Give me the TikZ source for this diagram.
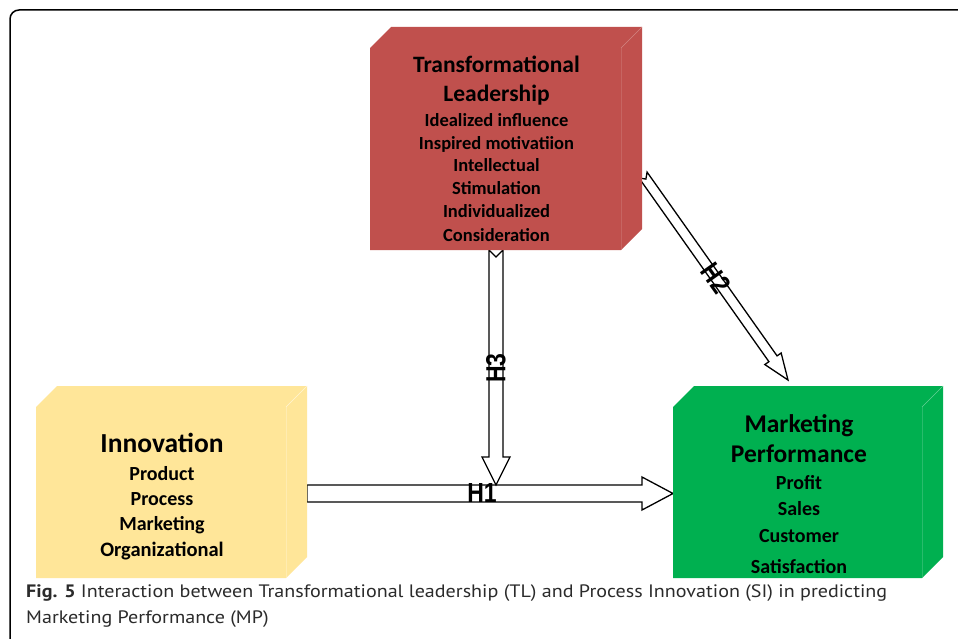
\documentclass[tikz,border=0pt]{standalone}
\usepackage{fontspec}
\setmainfont{Carlito}
\newfontfamily\hfont{Liberation Sans}
\newfontfamily\capfont{PT Sans}
\usetikzlibrary{calc}
\definecolor{tlred}{HTML}{C0504D}
\definecolor{innyel}{HTML}{FFE699}
\definecolor{mpgreen}{HTML}{00B050}
\definecolor{capgray}{HTML}{2B2B2B}
\tikzset{
  cubebox/.style={inner sep=0pt, outer sep=0pt},
  boxtxt/.style={anchor=base, inner sep=0pt, font=\bfseries, text=black},
  blk/.style={draw=black, fill=white, line width=1.3pt, line join=miter},
  hlab/.style={font=\hfont\bfseries\fontsize{23}{23}\selectfont, inner sep=0pt, text=black},
  caption/.style={anchor=base west, inner sep=0pt, text=capgray, font=\capfont\fontsize{18}{26}\selectfont},
  frame/.style={draw=black, line width=1.5pt, rounded corners=9pt},
}
\newcommand\hl[1]{\scalebox{1}[1.2]{#1}}
\newcommand\capline[1]{\scalebox{1.115}[1]{#1}}
% cube-like box: #1 node name, #2 fill colour, #3 facet line colour
\newcommand\cubefill[3]{%
  \fill[#2] ($(#1.north west)+(0,21)$) -- ($(#1.north west)+(21,0)$) -- (#1.north east)
    -- ($(#1.south east)+(0,-21)$) -- ($(#1.south east)+(-21,0)$) -- (#1.south west) -- cycle;
  \draw[#3, line width=0.6pt] ($(#1.north east)+(-21,21)$) -- (#1.north east);
  \draw[#3, line width=0.4pt, opacity=0.4] ($(#1.north east)+(-21,21)$) -- ($(#1.south east)+(-21,0)$);
}
% block arrow: #1 start, #2 end, #3 half width, #4 head half width, #5 head length, #6 notch depth
\newcommand\blockarr[6]{%
  \coordinate (hb) at ($(#2)!#5!(#1)$);
  \draw[blk] ($(#1)!#3!90:(#2)$) -- ($(hb)!#3!90:(#2)$) -- ($(hb)!#4!90:(#2)$) -- (#2)
    -- ($(hb)!#4!-90:(#2)$) -- ($(hb)!#3!-90:(#2)$) -- ($(#1)!#3!-90:(#2)$)
    -- ($(#1)!#6!(#2)$) -- cycle;
}
\begin{document}
\begin{tikzpicture}[x=1pt, y=-1pt]
\useasboundingbox (0,0) rectangle (958,639);
\fill[white] (0,0) rectangle (958,639);
\draw[frame] (10,660) -- (10,10) -- (980,10);

% box frames (named nodes)
\node[cubebox, minimum width=272pt, minimum height=223pt] (tl) at (506,138.5) {};
\node[cubebox, minimum width=271pt, minimum height=192pt] (inn) at (171.5,482) {};
\node[cubebox, minimum width=270pt, minimum height=192pt] (mp) at (808,482) {};

% arrow end points
\coordinate (h1s) at (inn.east |- 0,493.5);
\coordinate (h1e) at (mp.west |- 0,493.5);
\coordinate (h3s) at (496,250);
\coordinate (h3e) at (496,485);
\coordinate (h2s) at (643,175);
\coordinate (h2e) at (788,380);

\blockarr{h1s}{h1e}{8.5pt}{16.5pt}{31pt}{0pt}
\blockarr{h3s}{h3e}{7pt}{14pt}{28pt}{7pt}
\blockarr{h2s}{h2e}{5pt}{10pt}{26pt}{5pt}

\cubefill{tl}{tlred}{tlred!70!white}
\cubefill{inn}{innyel}{innyel!40!white}
\cubefill{mp}{mpgreen}{mpgreen!60!white}

% labels on arrows
\node[hlab] (lh1) at (482,493) {\hl{H1}};
\node[hlab, rotate=90] (lh3) at (496,368) {\hl{H3}};
\node[hlab, rotate=-54.7] (lh2) at (716,278) {\hl{H2}};

% Transformational Leadership text
\node[boxtxt] (tl1) at (496.5,73) {\fontsize{23.5}{27}\selectfont Transformational};
\node[boxtxt] (tl2) at (496.5,102) {\fontsize{23.5}{27}\selectfont Leadership};
\node[boxtxt] (tl3) at (496.5,127) {\fontsize{18.5}{22}\selectfont Idealized influence};
\node[boxtxt] (tl4) at (496.5,149.5) {\fontsize{18.5}{22}\selectfont Inspired motivatiion};
\node[boxtxt] (tl5) at (496.5,172) {\fontsize{18.5}{22}\selectfont Intellectual};
\node[boxtxt] (tl6) at (496.5,195) {\fontsize{18.5}{22}\selectfont Stimulation};
\node[boxtxt] (tl7) at (496.5,217.5) {\fontsize{18.5}{22}\selectfont Individualized};
\node[boxtxt] (tl8) at (496.5,241) {\fontsize{18.5}{22}\selectfont Consideration};

% Innovation text
\node[boxtxt] (in1) at (162,452) {\fontsize{27.5}{30}\selectfont Innovation};
\node[boxtxt] (in2) at (162,480) {\fontsize{20}{24}\selectfont Product};
\node[boxtxt] (in3) at (162,505) {\fontsize{20}{24}\selectfont Process};
\node[boxtxt] (in4) at (162,530) {\fontsize{20}{24}\selectfont Marketing};
\node[boxtxt] (in5) at (162,556) {\fontsize{20.5}{24}\selectfont Organizational};

% Marketing Performance text
\node[boxtxt] (mp1) at (799,432) {\fontsize{25.5}{30}\selectfont Marketing};
\node[boxtxt] (mp2) at (799,462) {\fontsize{25.5}{30}\selectfont Performance};
\node[boxtxt] (mp3) at (799,489) {\fontsize{20}{24}\selectfont Profit};
\node[boxtxt] (mp4) at (799,515) {\fontsize{20}{24}\selectfont Sales};
\node[boxtxt] (mp5) at (799,542) {\fontsize{20}{24}\selectfont Customer};
\node[boxtxt] (mp6) at (799,573) {\fontsize{20}{24}\selectfont Satisfaction};

% caption
\node[caption] (cap1) at (26,597) {\capline{\textbf{Fig. 5} Interaction between Transformational leadership (TL) and Process Innovation (SI) in predicting}};
\node[caption] (cap2) at (26,623) {\capline{Marketing Performance (MP)}};
\end{tikzpicture}
\end{document}
